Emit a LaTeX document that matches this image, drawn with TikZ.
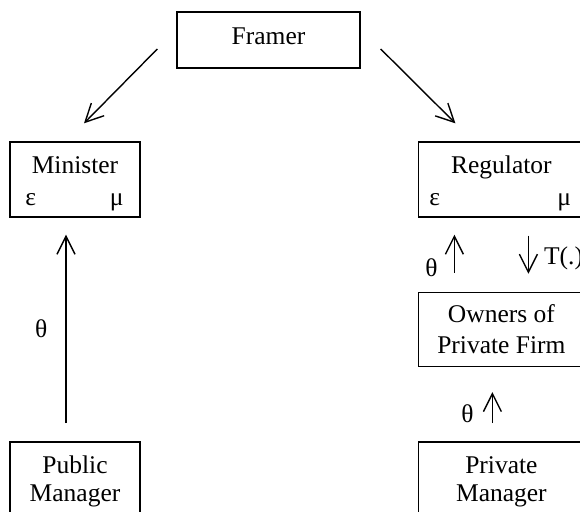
\documentclass[tikz,border=0pt]{standalone}
\usepackage{fontspec}
\setmainfont{Liberation Serif}
\usetikzlibrary{arrows.meta, positioning}

\begin{document}
\begin{tikzpicture}[x=0.5pt, y=0.5pt,
    % Styles
    agent/.style={draw, line width=0.7pt, inner sep=0, font=\fontsize{12.75}{14}\selectfont, align=center},
    small agent/.style={agent, minimum width=65pt},
    wide agent/.style={agent, minimum width=83pt},
    top agent/.style={text height=15.5pt, text depth=22pt},
    bottom agent/.style={minimum height=40pt},
    greek label/.style={font=\fontsize{12.75}{14}\selectfont, inner sep=0, anchor=base},
    flow arrow/.style={-{Straight Barb[length=9pt, width=9pt]}, line width=0.7pt},
    flow label/.style={font=\fontsize{12.75}{14}\selectfont, inner sep=0},
]
    % page frame (bottom boxes run off the page)
    \clip (0,0) rectangle (580,511);

    % === Top: framer ===
    \node[agent, minimum width=91.5pt, text height=16pt, text depth=12pt, anchor=base] (framer) at (268.5,467) {Framer};

    % === Second row: minister and regulator ===
    \node[small agent, top agent, anchor=base] (minister) at (75,338) {Minister};
    \node[wide agent, top agent, right=138.5pt of minister] (regulator) {Regulator};
    \node[greek label] at ([xshift=10.75pt, yshift=6pt]minister.south west) {ε};
    \node[greek label] at ([xshift=-12pt, yshift=6pt]minister.south east) {μ};
    \node[greek label] at ([xshift=8.5pt, yshift=6pt]regulator.south west) {ε};
    \node[greek label] at ([xshift=-10.5pt, yshift=6pt]regulator.south east) {μ};

    % === Right column: owners and private manager ===
    \node[wide agent, minimum height=37pt, font=\fontsize{12.75}{15.5}\selectfont, below=37pt of regulator] (owners) {Owners of\\Private Firm};
    \node[wide agent, bottom agent, below=37pt of owners] (priv-manager) {Private\\Manager};

    % === Left column: public manager, level with private manager ===
    \node[small agent, bottom agent] (pub-manager) at (minister |- priv-manager) {Public\\Manager};

    % Framer arrows
    \draw[flow arrow] ([xshift=-9.5pt, yshift=-4.5pt]framer.west) -- ([xshift=4.5pt, yshift=9pt]minister.north);
    \draw[flow arrow] ([xshift=10pt, yshift=-4.5pt]framer.east) -- ([xshift=-23pt, yshift=9pt]regulator.north);

    % Public side
    \draw[flow arrow] ([xshift=-4.5pt, yshift=9pt]pub-manager.north) -- ([xshift=-4.5pt, yshift=-8.5pt]minister.south)
        node[flow label, left=9pt, pos=0.5] {θ};

    % Private side
    \draw[flow arrow] ([xshift=-23.5pt, yshift=9.5pt]owners.north) -- ([xshift=-23.5pt, yshift=-8.5pt]regulator.south)
        node[flow label, left=8pt, pos=0.13] {θ};
    \draw[flow arrow] ([xshift=13.5pt, yshift=-9pt]regulator.south) -- ([xshift=13.5pt, yshift=9pt]owners.north)
        node[flow label, right=7.5pt, pos=0.6] {T(.)};
    \draw[flow arrow] ([xshift=-4.5pt, yshift=9pt]priv-manager.north) -- ([xshift=-4.5pt, yshift=-12.5pt]owners.south)
        node[flow label, left=9pt, pos=0.3] {θ};
\end{tikzpicture}
\end{document}
